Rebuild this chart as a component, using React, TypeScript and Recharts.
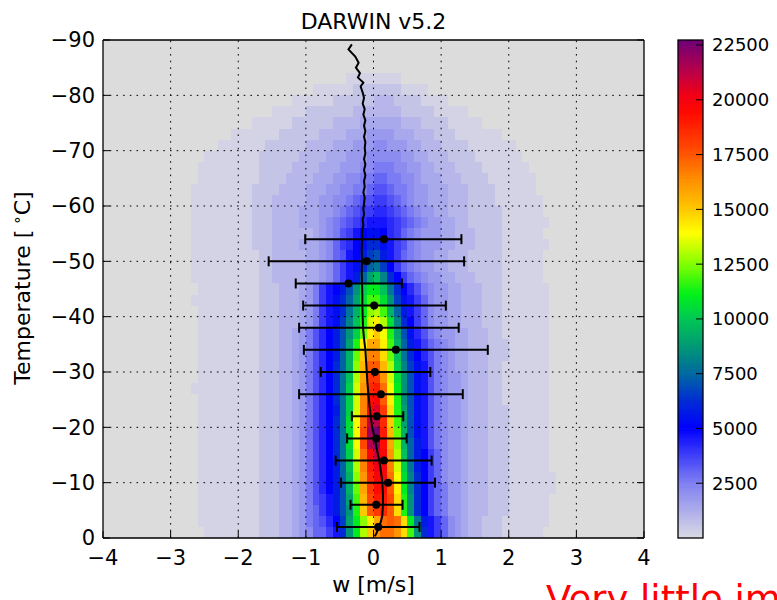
import React from 'react';
import { ScatterChart, Scatter, XAxis, YAxis, ReferenceArea, ReferenceLine, ErrorBar } from 'recharts';

const FONT = "'DejaVu Sans', 'Bitstream Vera Sans', sans-serif";

// ---------------- data ----------------
const TITLE = 'DARWIN v5.2';
const X_LABEL = 'w [m/s]';
const X_TICKS = [-4, -3, -2, -1, 0, 1, 2, 3, 4];
const Y_TICKS = [-90, -80, -70, -60, -50, -40, -30, -20, -10, 0];
const X_GRID = [-3, -2, -1, 0, 1, 2, 3];
const Y_GRID = [-80, -70, -60, -50, -40, -30, -20, -10];
const CB_TICKS = [2500, 5000, 7500, 10000, 12500, 15000, 17500, 20000, 22500];
const CB_MAX = 22730;

// 2-D histogram of counts: rows of 2 °C from -90 °C, columns of 0.1 m/s from -2.8 m/s.
// each character is a count level (index in LEVEL_CODES, ~400 counts per step)
const HIST_W_START = -2.8;
const HIST_W_STEP = 0.1;
const HIST_T_START = -90;
const HIST_T_STEP = 2;
const LEVEL_CODES = '0123456789ABCDEFGHIJKLMNOPQRSTUVWXYZabcdefghijklmnopqrstuvwxyz';
const LEVEL_UNIT = 400;

const HIST_ROWS: string[] = [
  '0000000000' + '0000000000' + '00000000' + '00000000' + '0000000000' + '0000000000',
  '0000000000' + '0000000000' + '00000000' + '00000000' + '0000000000' + '0000000000',
  '0000000000' + '0000000000' + '00000000' + '00000000' + '0000000000' + '0000000000',
  '0000000000' + '0000000000' + '00001111' + '11110000' + '0000000000' + '0000000000',
  '0000000000' + '0000000001' + '11111222' + '22221111' + '0000000000' + '0000000000',
  '0000000000' + '0000001111' + '11222222' + '33322221' + '1110000000' + '0000000000',
  '0000000000' + '0001111122' + '22222333' + '33332222' + '2111110000' + '0000000000',
  '0000000000' + '1111112222' + '22333344' + '44443332' + '2221111100' + '0000000000',
  '0000000111' + '1111222222' + '33334445' + '55544433' + '3222111111' + '1000000000',
  '0000011111' + '1122222233' + '33444555' + '66555443' + '3322221111' + '1110000000',
  '0001111111' + '1222222333' + '34445556' + '66665544' + '3332222111' + '1111000000',
  '0011111111' + '1222223333' + '44455566' + '77766554' + '4333222211' + '1111100000',
  '0011111111' + '1222233334' + '44556677' + '88776654' + '4433322221' + '1111110000',
  '0111111111' + '2222333344' + '45566778' + '99877655' + '4443332222' + '1111110000',
  '0111111111' + '2223333344' + '55667899' + 'AA987655' + '4443332222' + '1111111000',
  '0111111111' + '2223333444' + '556789AA' + 'BBA98765' + '5443332222' + '2111111000',
  '0111111111' + '2223333444' + '56789ABC' + 'CCBA9876' + '5544332222' + '2111111100',
  '0111111111' + '2223333334' + '5679ACDE' + 'EDBA8765' + '5544333222' + '2111111000',
  '0111111111' + '2223333444' + '568ABDEG' + 'GECA9765' + '5544333222' + '2111111100',
  '0111111111' + '1223333344' + '5689CDFH' + 'IFCA8765' + '5443332222' + '2111111000',
  '0111111111' + '1223333344' + '568ACEGJ' + 'KHDA8765' + '5443332222' + '2111111000',
  '0111111111' + '1223333344' + '568ACFJN' + 'PLGDA876' + '5544333222' + '2111111000',
  '0011111111' + '1222333457' + 'ACDFIMQS' + 'SPKGDB97' + '6554433322' + '2111111100',
  '0111111111' + '1222333457' + 'ACEGJNRU' + 'URMHECA8' + '6554433322' + '2111111100',
  '0011111111' + '1222333457' + 'ACEGKOSW' + 'XUOJFCA8' + '6554433322' + '2111111100',
  '0011111111' + '1222333457' + 'ACEHLPTY' + 'aXRLGDA8' + '6554433322' + '2111111100',
  '0011111111' + '1222334579' + 'BDFIMQVa' + 'cZTNIEB9' + '7655443332' + '2111111100',
  '0011111111' + '1222334579' + 'BDFINTae' + 'eaUOJFCA' + '8765443332' + '2211111100',
  '0011111111' + '1222334579' + 'BDFJOVcg' + 'gbVPKGDB' + '9765443332' + '2211111100',
  '0011111111' + '1222334579' + 'BDGJOWdi' + 'idXQLHEC' + '9765443332' + '2111111100',
  '0011111111' + '1222334579' + 'BDGKPXek' + 'kfYRMIEC' + '9765543332' + '2111111100',
  '0111111111' + '1222334579' + 'BDGKQYfl' + 'mhZSMIEC' + '9765543332' + '2111111100',
  '0011111111' + '1222334579' + 'BDGKQYgn' + 'oiaTMIEC' + '9765543332' + '2111111100',
  '0011111111' + '1222334579' + 'BDFKQYgo' + 'qkbTNIEC' + '9765543332' + '2211111100',
  '0011111111' + '1222334579' + 'BDGKRZir' + 'slcUNIEC' + '9765543332' + '2211111100',
  '0011111111' + '1222334579' + 'BDGKRZjt' + 'vmdVOIEC' + '9765543332' + '2211111100',
  '0011111111' + '1222334579' + 'BDGKRZjs' + 'uneWOJFC' + '9765543332' + '2211111100',
  '0011111111' + '1222334579' + 'BDGKQYho' + 'rofXPJFD' + 'A865543332' + '2211111100',
  '0011111111' + '1222334579' + 'BDFJPXgm' + 'pogYQKFD' + 'A865543332' + '2211111100',
  '0011111111' + '1222334579' + 'BDFJOWfl' + 'oohZRLGD' + 'A865543332' + '2211111110',
  '0011111111' + '1222334579' + 'BDFIOVek' + 'nniaSLGD' + 'A875543332' + '2211111110',
  '0011111111' + '1222334579' + 'ACFINUdj' + 'mmjbTMGD' + 'A875543332' + '2211111100',
  '0011111111' + '1222334578' + 'ACFIMTci' + 'klibTMGD' + 'A875543332' + '2211111100',
  '0011111111' + '1222334578' + '9BDHNSWa' + 'ehihbSKF' + 'CA86543322' + '2111111100',
  '0001111111' + '1222334568' + '8ACGMSXc' + 'fhhfbUMG' + 'CA86543322' + '2111111000',
];

// mean profile (black line)
const LINE_T = [
  -89.2, -88.3, -87.0, -85.9, -85.0, -84.0, -83.2, -82.3, -81.6, -80.5,
  -79.5, -78.5, -77.5, -76.5, -75.5, -74.5, -73.5, -72.5, -71.5, -70.5,
  -69.5, -68.5, -67.5, -66.5, -65.5, -64.5, -63.5, -62.5, -61.5, -60.5,
  -59.5, -58.5, -57.5, -56.5, -55.5,
  -54, -52, -50, -48, -46, -44, -42, -40, -38, -36, -34, -32, -30, -28, -26,
  -24, -22, -20, -18, -16, -14, -12, -10, -8, -6, -4, -3, -2, -1, -0.3,
];
const LINE_W = [
  -0.32, -0.37, -0.27, -0.22, -0.26, -0.2, -0.23, -0.15, -0.19, -0.16,
  -0.14, -0.16, -0.13, -0.15, -0.12, -0.14, -0.12, -0.14, -0.12, -0.13,
  -0.12, -0.14, -0.12, -0.14, -0.12, -0.14, -0.13, -0.15, -0.13, -0.14,
  -0.15, -0.14, -0.16, -0.15, -0.17,
  -0.17, -0.175, -0.17, -0.175, -0.17, -0.165, -0.165, -0.16, -0.155, -0.14, -0.12, -0.11, -0.1, -0.09, -0.075,
  -0.06, -0.04, -0.02, 0.02, 0.05, 0.085, 0.11, 0.13, 0.14, 0.14, 0.13, 0.11, 0.08, 0.05, 0.02,
];

// points with horizontal error bars
const ERR_T = [-54, -50, -46, -42, -38, -34, -30, -26, -22, -18, -14, -10, -6, -2];
const ERR_W = [0.155, -0.1, -0.37, 0.01, 0.08, 0.33, 0.02, 0.11, 0.05, 0.04, 0.155, 0.215, 0.04, 0.07];
const ERR_LO = [-1.01, -1.55, -1.15, -1.04, -1.1, -1.03, -0.78, -1.1, -0.32, -0.39, -0.56, -0.48, -0.34, -0.54];
const ERR_HI = [1.3, 1.34, 0.42, 1.07, 1.26, 1.69, 0.84, 1.32, 0.44, 0.49, 0.86, 0.91, 0.43, 0.68];

// colormap stops: [value, r, g, b]
const CMAP_STOPS: number[][] = [
  [0, 218, 218, 228],
  [2500, 128, 128, 242],
  [5000, 0, 0, 255],
  [6300, 0, 45, 210],
  [7500, 0, 105, 160],
  [8800, 0, 155, 115],
  [10000, 0, 200, 85],
  [11100, 0, 240, 25],
  [12500, 130, 255, 0],
  [13900, 255, 255, 0],
  [15000, 255, 200, 0],
  [16400, 255, 140, 0],
  [17700, 255, 75, 0],
  [19400, 255, 10, 0],
  [20200, 240, 0, 20],
  [21200, 190, 0, 70],
  [22730, 110, 0, 120],
];

// ---------------- helpers ----------------
function cmap(v: number): string {
  const s = CMAP_STOPS;
  if (v <= s[0][0]) return `rgb(${s[0][1]},${s[0][2]},${s[0][3]})`;
  for (let i = 1; i < s.length; i++) {
    if (v <= s[i][0]) {
      const a = s[i - 1];
      const b = s[i];
      const t = (v - a[0]) / (b[0] - a[0]);
      const c = [1, 2, 3].map((k) => Math.round(a[k] + (b[k] - a[k]) * t));
      return `rgb(${c[0]},${c[1]},${c[2]})`;
    }
  }
  const l = s[s.length - 1];
  return `rgb(${l[1]},${l[2]},${l[3]})`;
}

function levelValue(ch: string): number {
  const idx = LEVEL_CODES.indexOf(ch);
  return idx <= 0 ? 0 : (idx - 0.5) * LEVEL_UNIT;
}

type Cell = { key: string; x1: number; x2: number; y1: number; y2: number; fill: string };
const CELLS: Cell[] = [];
HIST_ROWS.forEach((row, r) => {
  const y1 = HIST_T_START + r * HIST_T_STEP;
  const y2 = y1 + HIST_T_STEP;
  let i = 0;
  while (i < row.length) {
    const ch = row[i];
    let j = i;
    while (j < row.length && row[j] === ch) j++;
    if (ch !== '0') {
      CELLS.push({
        key: `c${r}-${i}`,
        x1: HIST_W_START + i * HIST_W_STEP,
        x2: HIST_W_START + j * HIST_W_STEP,
        y1,
        y2,
        fill: cmap(levelValue(ch)),
      });
    }
    i = j;
  }
});

const LINE_DATA = LINE_T.map((t, i) => ({ T: t, w: LINE_W[i] }));
const ERR_DATA = ERR_T.map((t, i) => ({ T: t, w: ERR_W[i], err: [ERR_W[i] - ERR_LO[i], ERR_HI[i] - ERR_W[i]] }));

const CB_STEP = 100;
const CB_SLICES: { lo: number; hi: number; fill: string }[] = [];
for (let v = 0; v < CB_MAX; v += CB_STEP) {
  const hi = Math.min(CB_MAX, v + CB_STEP);
  CB_SLICES.push({ lo: v, hi, fill: cmap((v + hi) / 2) });
}
const CB_EXTENT = [{ x: 0, v: 0 }, { x: 1, v: CB_MAX }];

const fmtMinus = (v: number) => String(v).replace('-', '\u2212');

const RectShape = (p: any) => (
  <rect x={p.x} y={p.y} width={p.width} height={p.height} fill={p.fill} shapeRendering="crispEdges" />
);
const OutlineShape = (p: any) => (
  <rect x={p.x} y={p.y} width={p.width} height={p.height} fill="none" stroke="#000" strokeWidth={1.3} />
);
const DotShape = (p: any) => <circle cx={p.cx} cy={p.cy} r={4} fill="#000" />;
const NoShape = () => <g />;

const tickStyle = { fill: '#000', fontSize: 21, fontFamily: FONT };

export default function App() {
  return (
    <div style={{ position: 'absolute', left: 0, top: 0, width: 777, height: 600, overflow: 'hidden', background: '#fff' }}>
      <div style={{ position: 'absolute', left: 0, top: 0 }}>
        <ScatterChart width={777} height={600} margin={{ top: 39, right: 132, bottom: 32, left: 43 }}>
          <ReferenceArea xAxisId="main" yAxisId="main" x1={-4} x2={4} y1={-90} y2={0} fill="#dcdcdc" fillOpacity={1} shape={RectShape} />
          {CELLS.map((c) => (
            <ReferenceArea key={c.key} xAxisId="main" yAxisId="main" x1={c.x1} x2={c.x2} y1={c.y1} y2={c.y2} fill={c.fill} fillOpacity={1} shape={RectShape} />
          ))}
          {X_GRID.map((v) => (
            <ReferenceLine key={`gx${v}`} xAxisId="main" yAxisId="main" x={v} stroke="#000" strokeWidth={1} strokeDasharray="1.6 5.1" />
          ))}
          {Y_GRID.map((v) => (
            <ReferenceLine key={`gy${v}`} xAxisId="main" yAxisId="main" y={v} stroke="#000" strokeWidth={1} strokeDasharray="1.6 5.1" />
          ))}
          <Scatter
            xAxisId="main"
            yAxisId="main"
            data={LINE_DATA}
            line={{ stroke: '#000', strokeWidth: 2 }}
            lineType="joint"
            shape={NoShape}
            isAnimationActive={false}
          />
          <Scatter xAxisId="main" yAxisId="main" data={ERR_DATA} shape={DotShape} isAnimationActive={false}>
            <ErrorBar dataKey="err" direction="x" width={5} stroke="#000" strokeWidth={2} />
          </Scatter>
          <XAxis
            xAxisId="main"
            type="number"
            dataKey="w"
            domain={[-4, 4]}
            allowDataOverflow
            ticks={X_TICKS}
            interval={0}
            height={30}
            tickSize={-7}
            tickMargin={19}
            tick={tickStyle}
            tickFormatter={fmtMinus}
            axisLine={{ stroke: '#000', strokeWidth: 1.3 }}
            tickLine={{ stroke: '#000' }}
          />
          <XAxis
            xAxisId="top"
            orientation="top"
            type="number"
            domain={[-4, 4]}
            allowDataOverflow
            ticks={X_TICKS}
            interval={0}
            height={1}
            tickSize={-7}
            tickFormatter={() => ''}
            axisLine={{ stroke: '#000', strokeWidth: 1.3 }}
            tickLine={{ stroke: '#000' }}
          />
          <YAxis
            yAxisId="main"
            type="number"
            dataKey="T"
            domain={[-90, 0]}
            reversed
            allowDataOverflow
            ticks={Y_TICKS}
            interval={0}
            width={60}
            tickSize={-7}
            tickMargin={15}
            tick={tickStyle}
            tickFormatter={fmtMinus}
            axisLine={{ stroke: '#000', strokeWidth: 1.3 }}
            tickLine={{ stroke: '#000' }}
          />
          <YAxis
            yAxisId="right"
            orientation="right"
            type="number"
            domain={[-90, 0]}
            reversed
            allowDataOverflow
            ticks={Y_TICKS}
            interval={0}
            width={1}
            tickSize={-7}
            tickFormatter={() => ''}
            axisLine={{ stroke: '#000', strokeWidth: 1.3 }}
            tickLine={{ stroke: '#000' }}
          />
        </ScatterChart>
      </div>

      <div style={{ position: 'absolute', left: 0, top: 0 }}>
        <ScatterChart width={777} height={600} margin={{ top: 40, right: 14, bottom: 62, left: 678 }}>
          {CB_SLICES.map((s, i) => (
            <ReferenceArea key={`cb${i}`} xAxisId="cb" yAxisId="cb" x1={0} x2={1} y1={s.lo} y2={s.hi} fill={s.fill} fillOpacity={1} shape={RectShape} />
          ))}
          <ReferenceArea xAxisId="cb" yAxisId="cb" x1={0} x2={1} y1={0} y2={CB_MAX} shape={OutlineShape} />
          <Scatter xAxisId="cb" yAxisId="cb" data={CB_EXTENT} shape={NoShape} isAnimationActive={false} />
          <XAxis
            xAxisId="cb"
            type="number"
            dataKey="x"
            domain={[0, 1]}
            allowDataOverflow
            height={0}
            axisLine={false}
            tickLine={false}
            tick={false}
          />
          <YAxis
            yAxisId="cb"
            orientation="right"
            type="number"
            dataKey="v"
            domain={[0, CB_MAX]}
            allowDataOverflow
            ticks={CB_TICKS}
            interval={0}
            width={60}
            tickSize={-7}
            tickMargin={16}
            tick={{ fill: '#000', fontSize: 18, fontFamily: FONT }}
            axisLine={false}
            tickLine={{ stroke: '#000' }}
          />
        </ScatterChart>
      </div>

      <svg width={777} height={600} style={{ position: 'absolute', left: 0, top: 0, pointerEvents: 'none' }} fontFamily={FONT}>
        <text x={373.5} y={29} textAnchor="middle" fontSize={22} fill="#000">{TITLE}</text>
        <text x={373.5} y={592} textAnchor="middle" fontSize={22} fill="#000">{X_LABEL}</text>
        <text transform="translate(30,288) rotate(-90)" textAnchor="middle" fontSize={22} fill="#000">
          Temperature [<tspan dx={5} dy={-8} fontSize={15}>∘</tspan>
          <tspan dy={8}>C]</tspan>
        </text>
        <text x={546} y={612} fontSize={37} fill="#ff0000">Very little impact</text>
      </svg>
    </div>
  );
}
